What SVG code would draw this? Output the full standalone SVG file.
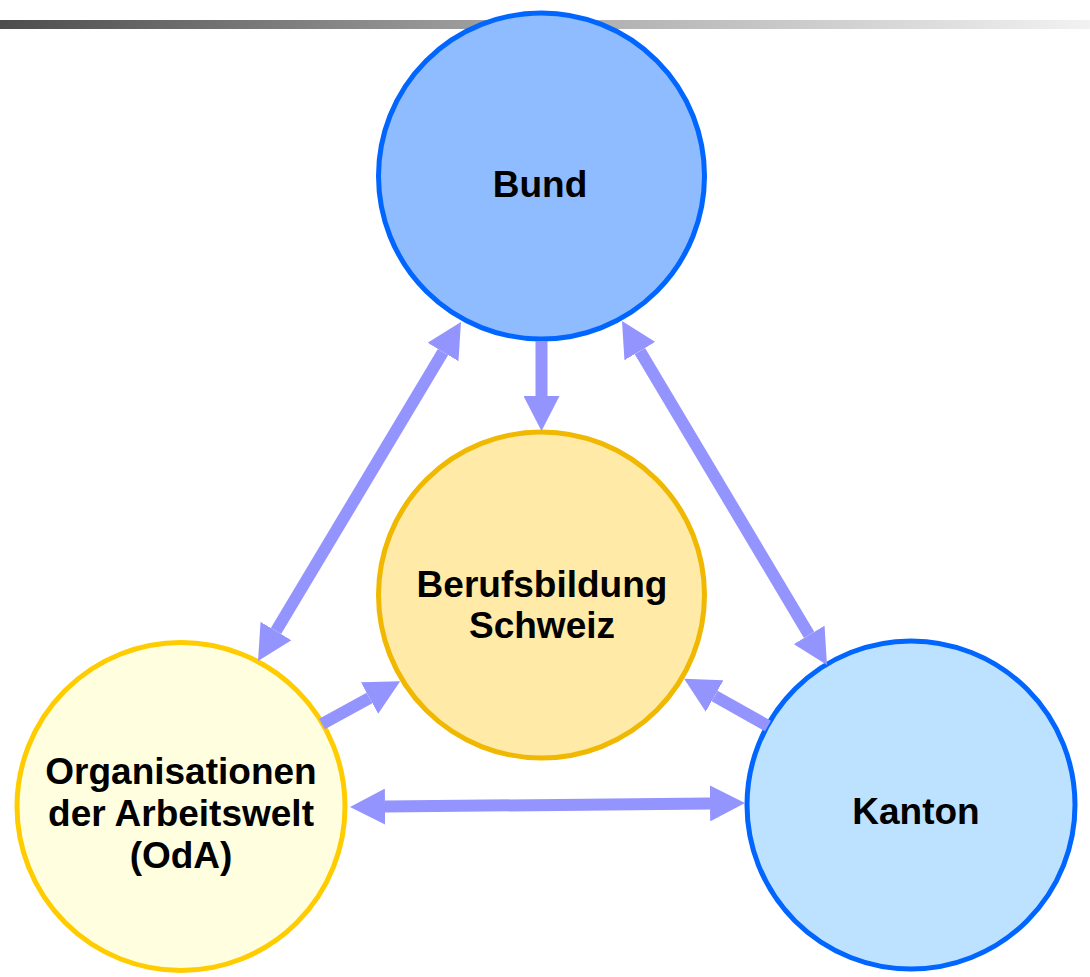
<svg xmlns="http://www.w3.org/2000/svg" width="1090" height="977" viewBox="0 0 1090 977">
<defs>
<linearGradient id="bar" x1="0" y1="0" x2="1" y2="0">
<stop offset="0" stop-color="#4d4d4d"/>
<stop offset="0.5" stop-color="#a9a9a9"/>
<stop offset="1" stop-color="#f2f2f2"/>
</linearGradient>
<marker id="head" markerUnits="userSpaceOnUse" markerWidth="36" markerHeight="36" refX="0" refY="18" orient="auto-start-reverse" viewBox="0 0 36 36">
<path d="M0,0 L35,18 L0,36 Z" fill="#9494ff"/>
</marker>
<style>
.lbl{font-family:"Liberation Sans",Arial,sans-serif;font-weight:bold;font-size:37px;fill:#000;text-anchor:middle}
.node{stroke-width:5}
.arrow{stroke:#9494ff;stroke-width:12;fill:none}
</style>
</defs>
<rect x="0" y="20" width="1090" height="9" fill="url(#bar)"/>
<g id="bund">
<circle class="node" cx="541.5" cy="176" r="163" fill="#8fbbff" stroke="#0066ff"/>
<text class="lbl" x="540" y="197">Bund</text>
</g>
<g id="berufsbildung">
<circle class="node" cx="541.5" cy="595" r="163" fill="#ffeaa8" stroke="#f0b800"/>
<text class="lbl" x="542" y="597">Berufsbildung</text>
<text class="lbl" x="542" y="638">Schweiz</text>
</g>
<g id="oda">
<circle class="node" cx="181" cy="806.5" r="164" fill="#ffffe0" stroke="#ffcc00"/>
<text class="lbl" x="181" y="784">Organisationen</text>
<text class="lbl" x="181" y="826">der Arbeitswelt</text>
<text class="lbl" x="181" y="868">(OdA)</text>
</g>
<g id="kanton">
<circle class="node" cx="911" cy="805" r="164" fill="#bde2ff" stroke="#0066ff"/>
<text class="lbl" x="916" y="824">Kanton</text>
</g>
<g id="connectors">
<line class="arrow" x1="541.5" y1="341" x2="541.5" y2="396" marker-end="url(#head)"/>
<line class="arrow" x1="443" y1="352" x2="276" y2="631" marker-start="url(#head)" marker-end="url(#head)"/>
<line class="arrow" x1="639.9" y1="351.1" x2="809.1" y2="634.9" marker-start="url(#head)" marker-end="url(#head)"/>
<line class="arrow" x1="322" y1="724" x2="369.5" y2="698" marker-end="url(#head)"/>
<line class="arrow" x1="768" y1="726" x2="714.6" y2="696" marker-end="url(#head)"/>
<line class="arrow" x1="385" y1="806.6" x2="710" y2="803.4" marker-start="url(#head)" marker-end="url(#head)"/>
</g>
</svg>
